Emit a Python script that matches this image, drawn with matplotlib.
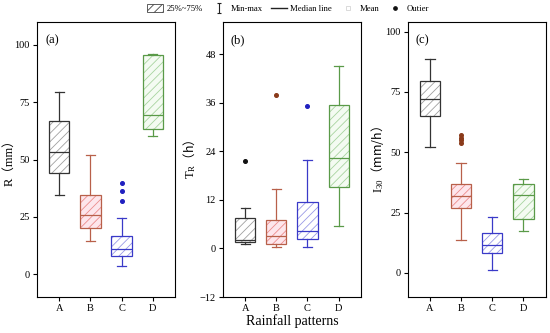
import matplotlib
matplotlib.use("Agg")
import matplotlib.pyplot as plt
from matplotlib.patches import Patch, PathPatch
from matplotlib.lines import Line2D
from matplotlib.path import Path

plt.rcParams["font.family"] = ["Liberation Serif", "Noto Sans CJK SC"]
plt.rcParams["mathtext.fontset"] = "custom"
plt.rcParams["mathtext.rm"] = "Liberation Serif"
plt.rcParams["mathtext.it"] = "Liberation Serif:italic"
plt.rcParams["mathtext.sf"] = "Noto Sans CJK SC"
plt.rcParams["hatch.linewidth"] = 0.6

patterns = ["A", "B", "C", "D"]

# five-number summaries: (min, q1, median, q3, max)
r_stats = [(34.6, 44.0, 53.2, 66.7, 79.5),
           (14.4, 20.2, 25.6, 34.5, 52.1),
           (3.4, 8.0, 11.1, 16.7, 24.3),
           (60.4, 63.4, 69.6, 95.7, 96.2)]
r_outliers = [[], [], [32.1, 36.1, 39.6], []]

tr_stats = [(1.2, 1.7, 2.0, 7.65, 9.9),
            (0.25, 1.15, 3.0, 7.0, 14.7),
            (0.25, 2.4, 4.4, 11.6, 22.0),
            (5.6, 15.1, 22.3, 35.4, 45.1)]
tr_outliers = [[21.6], [38.0], [35.3], []]

i30_stats = [(52.3, 64.9, 72.2, 79.7, 88.5),
             (13.5, 27.0, 31.9, 37.0, 45.5),
             (1.1, 8.1, 11.7, 16.6, 23.1),
             (17.3, 22.3, 32.4, 37.0, 38.8)]
i30_outliers = [[], [54.0, 55.0, 56.1, 57.3], [], []]

edge_colors = ["#333333", "#b8604a", "#3a3ac8", "#5a9a48"]
hatch_colors = ["#a0a0a0", "#ec8c8c", "#9a9ae6", "#a8d4a0"]
face_colors = ["white", "#fde6ec", "white", "#f4fbf2"]
flier_colors = ["#111111", "#8a3a1a", "#2020c0", "#5a9a48"]

panels = [
    (r_stats, r_outliers, "R（mm）", (-10, 110), [0, 25, 50, 75, 100], "(a)"),
    (tr_stats, tr_outliers, "$\\mathrm{T}_\\mathrm{R}\\mathsf{（h）}$",
     (-12, 56), [-12, 0, 12, 24, 36, 48], "(b)"),
    (i30_stats, i30_outliers, "$\\mathrm{I}_\\mathrm{30}\\mathsf{（mm/h）}$",
     (-10, 104), [0, 25, 50, 75, 100], "(c)"),
]

fig = plt.figure(figsize=(5.5, 3.33), dpi=100)
lefts = [0.067, 0.405, 0.741]
label_x = [-0.155, -0.18, -0.155]

for left, lx, (stats, outliers, ylabel, ylim, yticks, tag) in zip(lefts, label_x, panels):
    ax = fig.add_axes([left, 0.108, 0.2515, 0.826])
    positions = range(1, len(patterns) + 1)
    for i, pos in enumerate(positions):
        lo, q1, med, q3, hi = stats[i]
        bstat = [dict(whislo=lo, q1=q1, med=med, q3=q3, whishi=hi,
                      fliers=outliers[i])]
        art = ax.bxp(bstat, positions=[pos], widths=0.65, capwidths=0.3,
                     patch_artist=True, showfliers=True,
                     manage_ticks=False)
        c = edge_colors[i]
        box = art["boxes"][0]
        box.set_facecolor(face_colors[i])
        box.set_edgecolor(hatch_colors[i])
        box.set_hatch("////")
        box.set_linewidth(0)
        ax.add_patch(PathPatch(box.get_path(), fill=False, edgecolor=c,
                               linewidth=0.9, zorder=box.get_zorder() + 0.1))
        for key in ("whiskers", "caps", "medians"):
            for ln in art[key]:
                ln.set_color(c)
                ln.set_linewidth(0.9)
                ln.set_zorder(box.get_zorder() + 0.2)
        for fl in art["fliers"]:
            fl.set_marker("o")
            fl.set_markersize(2.6)
            fl.set_markerfacecolor(flier_colors[i])
            fl.set_markeredgecolor(flier_colors[i])
    ax.set_xlim(0.28, 4.72)
    ax.set_xticks(list(positions))
    ax.set_xticklabels(patterns)
    ax.set_ylim(*ylim)
    ax.set_yticks(yticks)
    ax.set_ylabel(ylabel, fontsize=9)
    ax.yaxis.set_label_coords(lx, 0.5)
    ax.tick_params(labelsize=7.5, length=3, width=0.8, pad=2)
    for sp in ax.spines.values():
        sp.set_linewidth(0.8)
    ax.text(0.11, 0.935, tag, transform=ax.transAxes, fontsize=9,
            va="center", ha="center")
    if tag == "(b)":
        ax.set_xlabel("Rainfall patterns", fontsize=10, labelpad=1)

ibeam = Path([(-0.5, -1), (0.5, -1), (0, -1), (0, 1), (-0.5, 1), (0.5, 1)],
             [Path.MOVETO, Path.LINETO, Path.MOVETO, Path.LINETO,
              Path.MOVETO, Path.LINETO])
handles = [
    Patch(facecolor="white", edgecolor="#444444", hatch="////", linewidth=0.6),
    Line2D([], [], linestyle="none", marker=ibeam, markersize=7,
           markeredgewidth=0.8, color="#222222"),
    Line2D([], [], color="#222222", linewidth=1.0),
    Line2D([], [], linestyle="none", marker="s", markersize=2.5,
           markerfacecolor="white", markeredgecolor="#cccccc",
           markeredgewidth=0.5),
    Line2D([], [], linestyle="none", marker="o", markersize=2.4,
           color="#111111"),
]
labels = ["25%~75%", "Min-max", "Median line", "Mean", "Outier"]
fig.legend(handles, labels, loc="center", bbox_to_anchor=(0.524, 0.974),
           ncol=5, frameon=False, fontsize=6.2, handlelength=1.9,
           handleheight=1.1, columnspacing=0.9, handletextpad=0.4)

fig.savefig("out.png", dpi=100)
